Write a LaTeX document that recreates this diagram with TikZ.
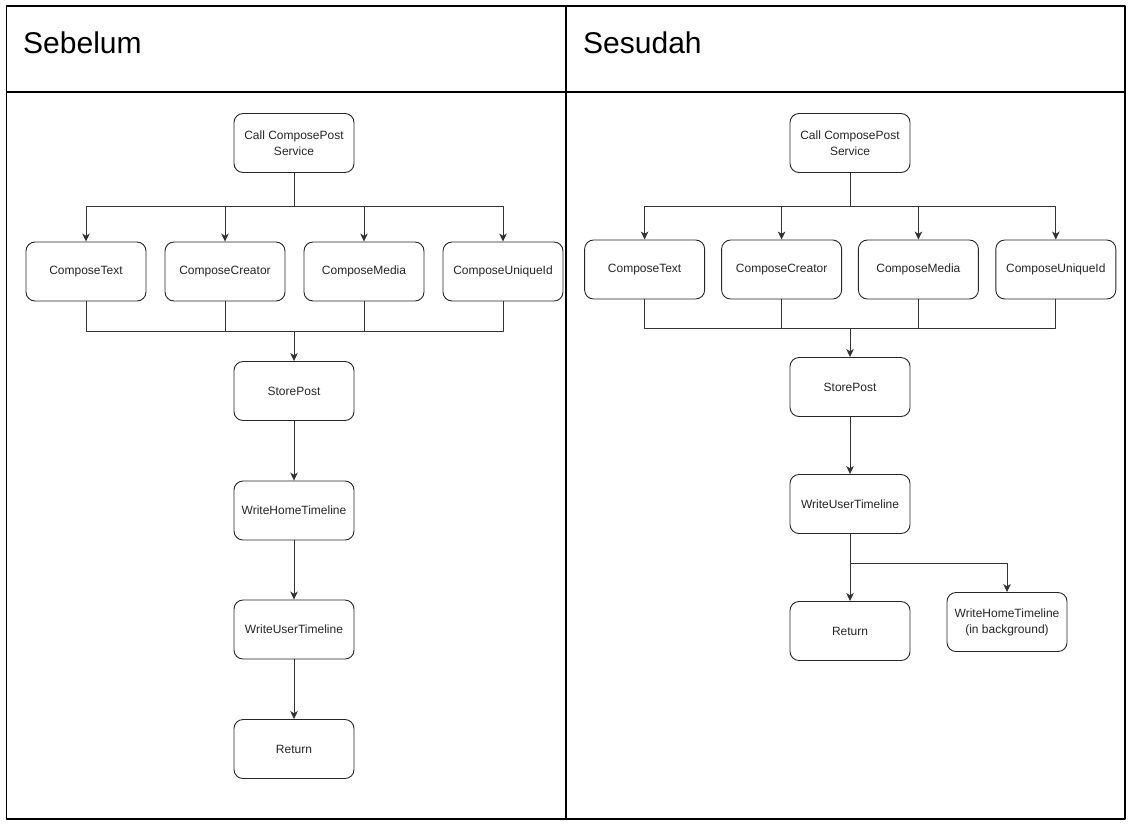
\documentclass[tikz,border=0pt]{standalone}
\usepackage{fontspec}
\setmainfont{Liberation Sans}
\usetikzlibrary{arrows.meta}

\tikzset{
  box/.style={draw=black!85, line width=0.9pt, rounded corners=9pt, minimum width=120pt,
    minimum height=59pt, inner sep=2pt, align=center, text=black!85,
    font=\fontsize{12}{16}\selectfont},
  conn/.style={draw=black!80, line width=1pt},
  head/.style={anchor=base west, inner sep=0pt, font=\fontsize{30}{36}\selectfont}
}

\begin{document}
\begin{tikzpicture}[x=1pt, y=-1pt, line join=round, >={Stealth[length=8pt,width=7.5pt,inset=2.2pt]}]
\def\lc{294} \def\rc{850}
\useasboundingbox (0,0) rectangle (1131,823);
% table frame
\draw[line width=1.8pt] (6.5,5.7) rectangle (1124.7,819);
\draw[line width=1.6pt] (6.5,91.7) -- (1124.7,91.7);
\draw[line width=1.8pt] (565.7,5.7) -- (565.7,819);
\node[head] (sebelum) at (23,53) {Sebelum};
\node[head] (sesudah) at (583,53) {Sesudah};

% before
\node[box] (lcall) at (\lc,143) {Call ComposePost\\Service};
\node[box] (ltext) at (86,271.5) {ComposeText};
\node[box] (lcreator) at (225,271.5) {ComposeCreator};
\node[box] (lmedia) at (364,271.5) {ComposeMedia};
\node[box] (luid) at (503,271.5) {ComposeUniqueId};
\node[box] (lstore) at (\lc,391) {StorePost};
\node[box] (lhome) at (\lc,510.5) {WriteHomeTimeline};
\node[box] (luser) at (\lc,629.5) {WriteUserTimeline};
\node[box] (lret) at (\lc,749) {Return};
\coordinate (lfork) at (\lc,206.7);
\coordinate (ljoin) at (\lc,331.7);
\draw[conn] (lcall) -- (lfork);
\foreach \n in {ltext,lcreator,lmedia,luid} {
  \draw[conn,->] (lfork) -| (\n.north);
  \draw[conn] (\n.south) |- (ljoin);
}
\draw[conn,->] (ljoin) -- (lstore);
\draw[conn,->] (lstore) -- (lhome);
\draw[conn,->] (lhome) -- (luser);
\draw[conn,->] (luser) -- (lret);

% after
\begin{scope}[every node/.append style={minimum width=117.5pt}]
\node[box] (rcall) at (\rc,143) {Call ComposePost\\Service};
\node[box] (rtext) at (644.6,269.5) {ComposeText};
\node[box] (rcreator) at (781.6,269.5) {ComposeCreator};
\node[box] (rmedia) at (918.4,269.5) {ComposeMedia};
\node[box] (ruid) at (1055.8,269.5) {ComposeUniqueId};
\node[box] (rstore) at (\rc,387) {StorePost};
\node[box] (ruser) at (\rc,504) {WriteUserTimeline};
\node[box] (rret) at (\rc,631) {Return};
\node[box] (rhome) at (1007,622) {WriteHomeTimeline\\(in background)};
\end{scope}
\coordinate (rfork) at (\rc,206);
\coordinate (rjoin) at (\rc,328);
\coordinate (rsplit) at (\rc,563);
\draw[conn] (rcall) -- (rfork);
\foreach \n in {rtext,rcreator,rmedia,ruid} {
  \draw[conn,->] (rfork) -| (\n.north);
  \draw[conn] (\n.south) |- (rjoin);
}
\draw[conn,->] (rjoin) -- (rstore);
\draw[conn,->] (rstore) -- (ruser);
\draw[conn] (ruser) -- (rsplit);
\draw[conn,->] (rsplit) -- (rret);
\draw[conn,->] (rsplit) -| (rhome.north);
\end{tikzpicture}
\end{document}
